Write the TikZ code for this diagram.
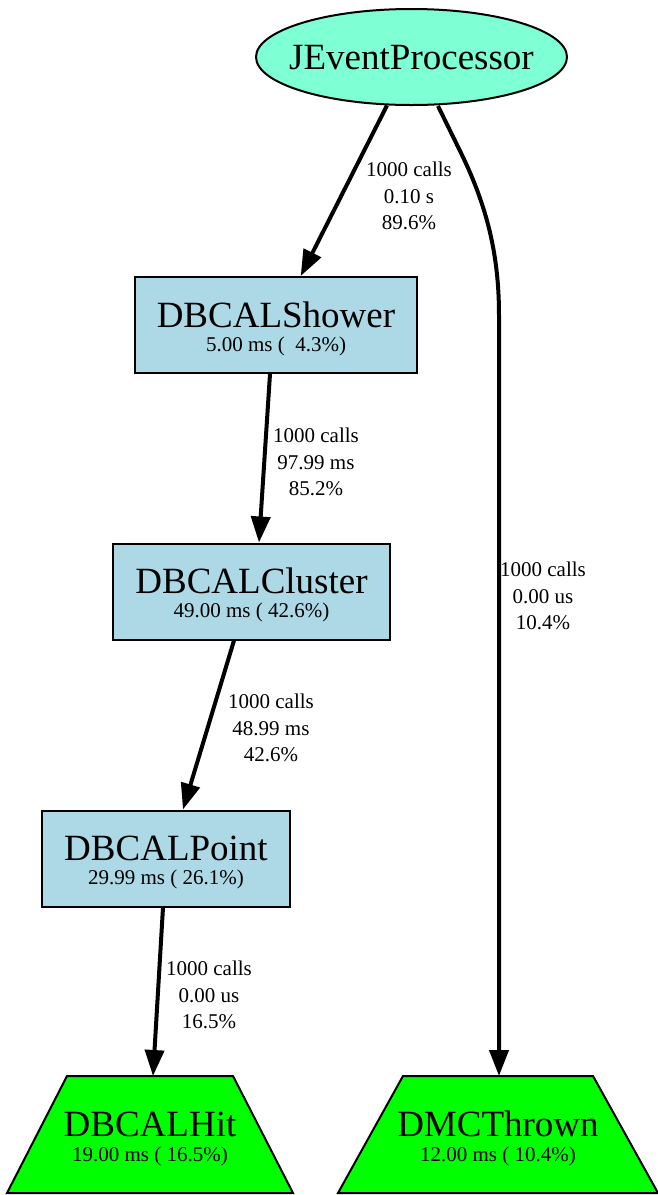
\documentclass[tikz,border=0pt]{standalone}
\usepackage{fontspec}
\setmainfont{Liberation Serif}
\usetikzlibrary{shapes.geometric,arrows.meta,calc}
\definecolor{aquamarine}{HTML}{7FFFD4}
\definecolor{boxblue}{HTML}{ADD8E6}
\definecolor{leafgreen}{HTML}{00FF00}
\pgfdeclarelayer{background}
\pgfsetlayers{background,main}
\begin{document}
\begin{tikzpicture}[x=1pt,y=-1pt,
  namefont/.style={font=\fontsize{37}{40}\selectfont},
  statfont/.style={font=\fontsize{21}{26}\selectfont, inner sep=0pt, anchor=base},
  shapeline/.style={draw=black, line width=2pt, inner sep=0pt,
    text height=10pt, text depth=6pt, namefont},
  processor/.style={shapeline, ellipse, fill=aquamarine, inner xsep=-14pt,
    minimum width=311pt, minimum height=96pt, text depth=0pt, text height=25pt},
  factory/.style={shapeline, rectangle, fill=boxblue, minimum height=96pt},
  source/.style={rectangle, inner sep=0pt, outer sep=0pt, minimum height=117pt,
    text height=10pt, text depth=6pt, namefont},
  sourceoutline/.style={draw=black, line width=2pt, fill=leafgreen, line join=miter},
  callarrow/.style={line width=4pt, -{Triangle[length=26pt,width=19pt]}},
  calllabel/.style={font=\fontsize{21}{26.5}\selectfont, align=center, inner sep=0pt}
]
\useasboundingbox (0,0) rectangle (657,1195);

% call graph nodes
\node[processor] (proc) at (411.5,57) {JEventProcessor};
\node[factory, minimum width=282pt] (shower) at (276,325) {DBCALShower};
\node[factory, minimum width=277pt] (cluster) at (251.5,591.5) {DBCALCluster};
\node[factory, minimum width=248pt] (point) at (166,858.5) {DBCALPoint};
\node[source, minimum width=286pt] (hit) at (150,1134.5) {DBCALHit};
\node[source, minimum width=320pt] (thrown) at (498,1134.5) {DMCThrown};

% trapezoid outlines of the source nodes, behind their text
\begin{pgfonlayer}{background}
  \draw[sourceoutline] (hit.south west) -- (hit.south east)
    -- ($(hit.north east)+(-60,0)$) -- ($(hit.north west)+(60,0)$) -- cycle;
  \draw[sourceoutline] (thrown.south west) -- (thrown.south east)
    -- ($(thrown.north east)+(-65,0)$) -- ($(thrown.north west)+(65,0)$) -- cycle;
\end{pgfonlayer}

% timing lines under each name
\node[statfont] (showerStats) at ($(shower.center)+(0,26)$) {5.00 ms (\ \ 4.3\%)};
\node[statfont] (clusterStats) at ($(cluster.center)+(0,26)$) {49.00 ms (\ 42.6\%)};
\node[statfont] (pointStats) at ($(point.center)+(0,26)$) {29.99 ms (\ 26.1\%)};
\node[statfont] (hitStats) at ($(hit.center)+(0,27)$) {19.00 ms (\ 16.5\%)};
\node[statfont] (thrownStats) at ($(thrown.center)+(0,27)$) {12.00 ms (\ 10.4\%)};

% calls
\draw[callarrow] (proc) -- (shower);
\draw[callarrow] ($(shower.south)+(-6,0)$) -- ($(cluster.north)+(7.5,0)$);
\draw[callarrow] ($(cluster.south)+(-17.5,0)$) -- ($(point.north)+(17,0)$);
\draw[callarrow] ($(point.south)+(-3,0)$) -- ($(hit.north)+(3,0)$);
\coordinate (thrownKnee) at (462,155);
\coordinate (thrownDrop) at (499,315);
\draw[callarrow] ($(proc.south)+(26.5,0)$) -- (thrownKnee)
  .. controls (487,207) and (499,255) .. (thrownDrop)
  -- ($(thrown.north)+(1,0)$);

% call statistics
\node[calllabel] (procShowerLbl) at (409,196) {1000 calls\\0.10 s\\89.6\%};
\node[calllabel] (showerClusterLbl) at (316,462) {1000 calls\\97.99 ms\\85.2\%};
\node[calllabel] (clusterPointLbl) at (271,728) {1000 calls\\48.99 ms\\42.6\%};
\node[calllabel] (pointHitLbl) at (209,995) {1000 calls\\0.00 us\\16.5\%};
\node[calllabel] (procThrownLbl) at (543,596) {1000 calls\\0.00 us\\10.4\%};
\end{tikzpicture}
\end{document}
